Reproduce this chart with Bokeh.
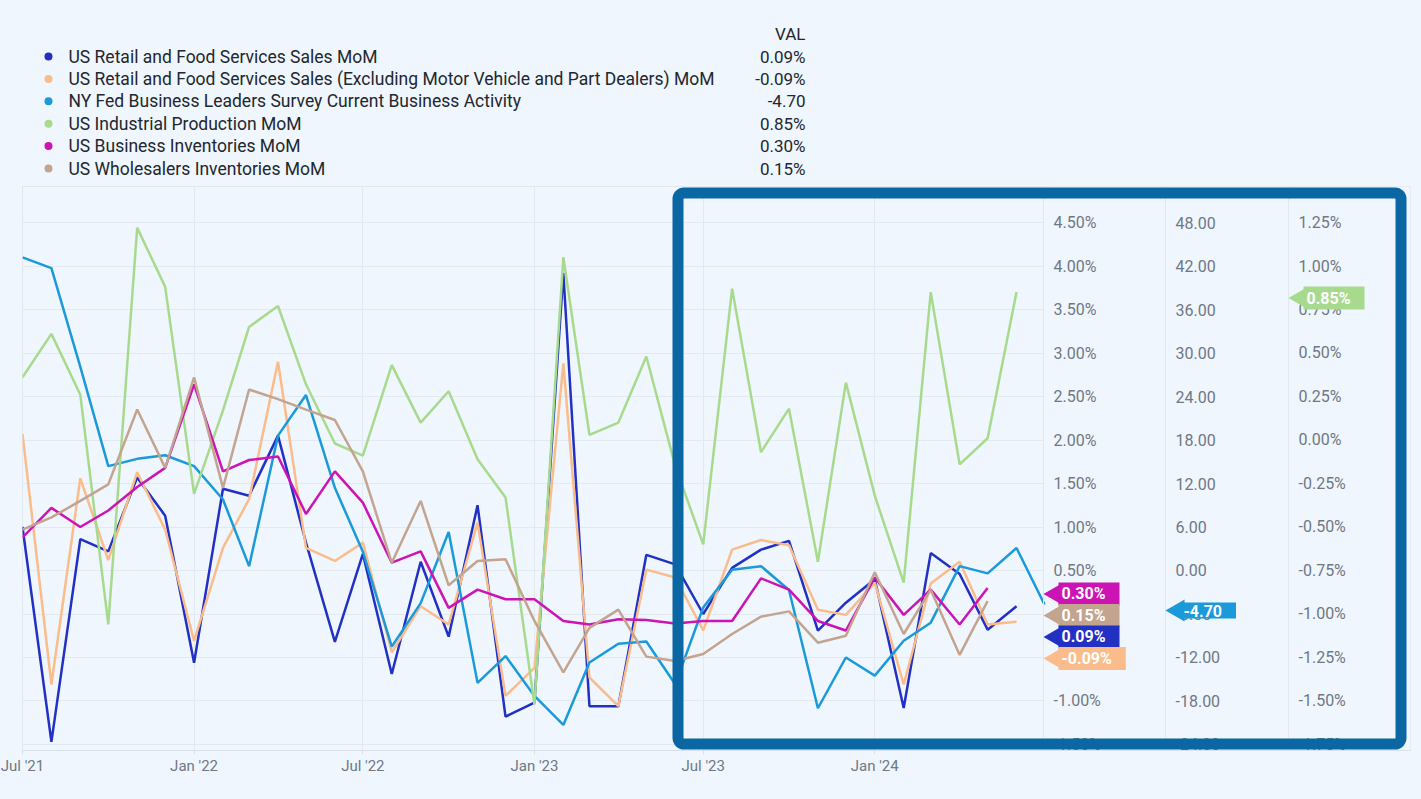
import numpy as np
import pandas as pd
from bokeh.plotting import figure
from bokeh.models import (ColumnDataSource, Range1d, LinearAxis, FixedTicker,
                          PrintfTickFormatter, DatetimeTickFormatter, BoxAnnotation,
                          GlobalInlineStyleSheet)
from bokeh.layouts import column
from bokeh.embed import file_html
from bokeh.resources import INLINE
from bokeh.core.properties import value

# ---------------- data ----------------
START = "2021-07-01"   # monthly observations

SERIES_NAMES = [
    "US Retail and Food Services Sales MoM",
    "US Retail and Food Services Sales (Excluding Motor Vehicle and Part Dealers) MoM",
    "NY Fed Business Leaders Survey Current Business Activity",
    "US Industrial Production MoM",
    "US Business Inventories MoM",
    "US Wholesalers Inventories MoM",
]
SERIES_COLORS = ["#2230c4", "#fbbc8c", "#1a9ad9", "#a8da8e", "#cc14b5", "#c3a48e"]
SERIES_AXIS = ["y1", "y1", "y2", "y3", "y1", "y1"]
SERIES_FMT = ["%", "%", "", "%", "%", "%"]

retail_sales = [1.00, -1.47, 0.86, 0.72, 1.57, 1.13, -0.56, 1.44, 1.36, 2.05, 0.82, -0.32,
                0.69, -0.69, 0.60, -0.26, 1.25, -1.18, -1.02, 3.92, -1.06, -1.06, 0.68, 0.57,
                0.00, 0.53, 0.74, 0.84, -0.19, 0.13, 0.40, -1.08, 0.70, 0.46, -0.18, 0.09]
retail_ex_auto = [2.07, -0.81, 1.56, 0.62, 1.63, 0.97, -0.31, 0.76, 1.32, 2.90, 0.76, 0.61,
                  0.82, -0.44, 0.09, -0.12, 1.05, -0.94, -0.62, 2.88, -0.73, -1.06, 0.51, 0.42,
                  -0.19, 0.74, 0.85, 0.79, 0.05, -0.01, 0.36, -0.81, 0.35, 0.60, -0.12, -0.09]
ny_fed_activity = [43.2, 41.7, 28.1, 14.4, 15.4, 15.9, 14.4, 9.8, 0.6, 18.6, 24.2, 11.4,
                   2.6, -10.5, -4.5, 5.3, -15.5, -11.8, -17.3, -21.3, -12.7, -10.1, -9.8, -15.7,
                   -5.1, 0.1, 0.6, -2.7, -19.0, -12.0, -14.5, -9.7, -7.2, 0.6, -0.4, 3.1, -4.70]
industrial_production = [0.36, 0.61, 0.26, -1.06, 1.22, 0.88, -0.31, 0.17, 0.65, 0.77, 0.32, -0.02,
                         -0.09, 0.43, 0.10, 0.28, -0.11, -0.33, -1.52, 1.05, 0.03, 0.10, 0.48, -0.15,
                         -0.60, 0.87, -0.07, 0.18, -0.70, 0.33, -0.32, -0.82, 0.85, -0.14, 0.01, 0.85]
business_inventories = [0.88, 1.22, 1.00, 1.19, 1.46, 1.68, 2.64, 1.64, 1.77, 1.81, 1.15, 1.64,
                        1.28, 0.59, 0.72, 0.07, 0.28, 0.17, 0.17, -0.08, -0.12, -0.06, -0.07, -0.11,
                        -0.08, -0.08, 0.41, 0.28, -0.08, -0.19, 0.42, -0.01, 0.28, -0.12, 0.30]
wholesale_inventories = [0.97, 1.11, 1.30, 1.49, 2.35, 1.68, 2.72, 1.45, 2.58, 2.47, 2.35, 2.23,
                         1.64, 0.59, 1.30, 0.33, 0.61, 0.63, -0.08, -0.67, -0.16, 0.05, -0.49, -0.54,
                         -0.46, -0.23, -0.03, 0.03, -0.33, -0.25, 0.48, -0.23, 0.28, -0.47, 0.15]

SERIES_VALUES = [retail_sales, retail_ex_auto, ny_fed_activity,
                 industrial_production, business_inventories, wholesale_inventories]

TICK_DATES = ["2021-07-01", "2022-01-01", "2022-07-01", "2023-01-01", "2023-07-01", "2024-01-01"]
Y1_TICKS = [-1.5, -1.0, -0.5, 0.0, 0.5, 1.0, 1.5, 2.0, 2.5, 3.0, 3.5, 4.0, 4.5]
Y2_TICKS = [-24, -18, -12, -6, 0, 6, 12, 18, 24, 30, 36, 42, 48]
Y3_TICKS = [-1.75, -1.5, -1.25, -1.0, -0.75, -0.5, -0.25, 0.0, 0.25, 0.5, 0.75, 1.0, 1.25]

# ---------------- layout constants ----------------
BG = "#eff6fd"
FIG_W = 1418
LEG_H = 180
MAIN_H = 615
B_LEFT, B_RIGHT, B_TOP, B_BOTTOM = 22, 8, 6, 45
FRAME_W = FIG_W - B_LEFT - B_RIGHT
FRAME_H = MAIN_H - B_TOP - B_BOTTOM
PX_PER_DAY = 1022 / 1096.0
DAY_MS = 86400000.0

x0 = pd.Timestamp(START).value / 1e6
x1 = x0 + FRAME_W / PX_PER_DAY * DAY_MS

def fx(px):
    return x0 + px / PX_PER_DAY * DAY_MS

RANGES = {
    "y1": Range1d(-1.569, 4.914),
    "y2": Range1d(-24.83, 52.97),
    "y3": Range1d(-1.7845, 1.4569),
}

def fy(rng, px):
    return rng.end - px * (rng.end - rng.start) / FRAME_H

def py(rng, v):
    return (rng.end - v) * FRAME_H / (rng.end - rng.start)

SEP_PX = {"y1": 1021, "y2": 1143, "y3": 1266}   # axis column separators (frame px)

# ---------------- main chart ----------------
p = figure(width=FIG_W, height=MAIN_H, x_axis_type="datetime",
           x_range=Range1d(x0, x1), y_range=RANGES["y1"],
           output_backend="svg", toolbar_location=None, y_axis_location=None,
           min_border_left=B_LEFT, min_border_right=B_RIGHT,
           min_border_top=B_TOP, min_border_bottom=B_BOTTOM,
           background_fill_color=BG, border_fill_color=BG,
           outline_line_color="#e1e8f0")
p.extra_y_ranges = {"y2": RANGES["y2"], "y3": RANGES["y3"]}

tick_ms = [pd.Timestamp(d).value / 1e6 for d in TICK_DATES]
p.xaxis.ticker = FixedTicker(ticks=tick_ms)
fmt = "%b '%y"
p.xaxis.formatter = DatetimeTickFormatter(days=fmt, months=fmt, years=fmt, hours=fmt,
                                          hourmin=fmt, minutes=fmt)
p.xaxis.axis_line_color = "#d8e0e9"
p.xaxis.major_tick_line_color = "#d8e0e9"
p.xaxis.major_tick_in = 0
p.xaxis.major_tick_out = 4
p.xaxis.minor_tick_line_color = None
p.xaxis.major_label_standoff = 2
p.xaxis.major_label_text_color = "#6f7884"
p.xaxis.major_label_text_font = "Roboto"
p.xaxis.major_label_text_font_size = "15px"

p.xgrid.ticker = FixedTicker(ticks=tick_ms)
p.ygrid.ticker = FixedTicker(ticks=Y1_TICKS)
p.xgrid.grid_line_color = "#e2e9f1"
p.ygrid.grid_line_color = "#e2e9f1"

# hide grid lines behind the value-axis columns
p.add_layout(BoxAnnotation(left=fx(SEP_PX["y1"]), fill_color=BG, fill_alpha=1.0,
                           line_alpha=0, level="underlay"))

# three value axes on the right, each in its own column
for key, ticks, f in [("y1", Y1_TICKS, "%.2f%%"), ("y2", Y2_TICKS, "%.2f"), ("y3", Y3_TICKS, "%.2f%%")]:
    ax = LinearAxis(y_range_name=("default" if key == "y1" else key),
                    ticker=FixedTicker(ticks=ticks),
                    formatter=PrintfTickFormatter(format=f),
                    fixed_location=fx(SEP_PX[key]))
    ax.axis_line_color = "#e1e8f0"
    ax.major_tick_line_color = None
    ax.minor_tick_line_color = None
    ax.major_tick_out = 0
    ax.major_tick_in = 0
    ax.major_label_standoff = 10
    ax.major_label_text_color = "#6f7884"
    ax.major_label_text_font = "Roboto"
    ax.major_label_text_font_size = "16px"
    p.add_layout(ax, "right")

# series lines
for name, color, key, vals in zip(SERIES_NAMES, SERIES_COLORS, SERIES_AXIS, SERIES_VALUES):
    dates = pd.date_range(START, periods=len(vals), freq="MS")
    src = ColumnDataSource(dict(x=dates, y=vals))
    p.line("x", "y", source=src, color=color, line_width=2.5,
           y_range_name=("default" if key == "y1" else key))

# highlight frame
p.add_layout(BoxAnnotation(left=fx(655.5), right=fx(1378.5),
                           top=fy(RANGES["y1"], 6.5), bottom=fy(RANGES["y1"], 557.5),
                           fill_alpha=0, line_color="#0a67a3", line_alpha=1.0, line_width=11,
                           border_radius=6, level="annotation"))

# last-value flags
FLAG_STEP = 21.5
for key in ["y1", "y2", "y3"]:
    rng = RANGES[key]
    idx = [i for i, k in enumerate(SERIES_AXIS) if k == key]
    idx.sort(key=lambda i: -SERIES_VALUES[i][-1])
    prev = None
    for i in idx:
        v = SERIES_VALUES[i][-1]
        pos = py(rng, v) + 6
        if prev is not None and pos < prev + FLAG_STEP:
            pos = prev + FLAG_STEP
        prev = pos
        yd = fy(rng, pos)
        label = f"{v:.2f}%" if SERIES_FMT[i] == "%" else f"{v:.2f}"
        rn = "default" if key == "y1" else key
        p.scatter(x=[fx(SEP_PX[key] + 12.7)], y=[yd], marker="triangle", size=22,
                  angle=np.pi / 2, fill_color=SERIES_COLORS[i], line_color=None,
                  y_range_name=rn, level="annotation")
        p.text(x=[fx(SEP_PX[key])], y=[yd], text=[label], x_offset=15,
               text_color="white", text_font=value("Roboto"), text_font_size="16px",
               text_font_style="bold", text_baseline="middle", text_align="left",
               background_fill_color=SERIES_COLORS[i],
               padding=dict(left=3, right=14, top=2, bottom=2),
               y_range_name=rn, level="annotation")

# ---------------- legend table (page-pixel coordinates) ----------------
lg = figure(width=FIG_W, height=LEG_H,
            x_range=Range1d(B_LEFT, FIG_W - B_RIGHT), y_range=Range1d(LEG_H, 0),
            output_backend="svg", toolbar_location=None,
            x_axis_location=None, y_axis_location=None,
            min_border_left=B_LEFT, min_border_right=B_RIGHT,
            min_border_top=0, min_border_bottom=0,
            background_fill_color=BG, border_fill_color=BG, outline_line_color=None)
lg.grid.visible = False
rows = [56 + 22.4 * i for i in range(len(SERIES_NAMES))]
vals_txt = [(f"{v[-1]:.2f}%" if f == "%" else f"{v[-1]:.2f}") for v, f in zip(SERIES_VALUES, SERIES_FMT)]
lsrc = ColumnDataSource(dict(y=rows, name=SERIES_NAMES, color=SERIES_COLORS, val=vals_txt))
lg.scatter(x=48, y="y", source=lsrc, size=8, fill_color="color", line_color=None)
lg.text(x=68, y="y", text="name", source=lsrc, text_color="#23272e",
        text_font=value("Roboto"), text_font_size="17.5px", text_baseline="middle")
lg.text(x=805, y="y", text="val", source=lsrc, text_color="#23272e",
        text_font=value("Roboto"), text_font_size="17px", text_baseline="middle",
        text_align="right")
lg.text(x=[805], y=[33], text=["VAL"], text_color="#23272e",
        text_font=value("Roboto"), text_font_size="17px", text_baseline="middle",
        text_align="right")

layout = column(lg, p, spacing=0,
                stylesheets=[GlobalInlineStyleSheet(css="body{background:#eff6fd;}")])

open("out.html", "w").write(file_html(layout, INLINE))
